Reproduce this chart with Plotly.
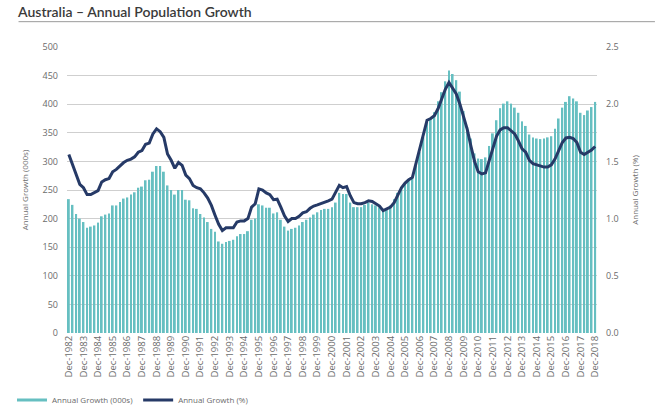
import plotly.graph_objects as go

# ---- data (quarterly, Dec-1982 .. Dec-2018) ----
months = ["Dec", "Mar", "Jun", "Sep"]
quarters = []
for i in range(145):
    m = months[i % 4]
    yr = 1982 + (i + 3) // 4
    quarters.append(f"{m}-{yr}")

tick_labels = [f"Dec-{y}" for y in range(1982, 2019)]

growth_000s = [
    234, 224, 208, 200, 194, 184, 186, 188, 193, 204, 207, 209, 223, 223, 229,
    235, 237, 242, 246, 254, 256, 267, 268, 282, 292, 292, 282, 258, 250, 242,
    250, 250, 233, 232, 218,
    217, 208, 202, 194, 182, 177, 160, 156, 159, 161, 163, 169, 173, 173, 178,
    198, 200, 225, 223, 219, 219, 209, 211, 198, 186, 179, 182, 184, 188, 194,
    198, 202, 207, 211, 215, 217, 217,
    220, 228, 245, 243, 243, 228, 220, 220, 220, 224, 228, 225, 223, 220, 214,
    217, 223, 234, 245, 255, 263, 269, 272, 292, 316, 342, 374, 376, 386, 405,
    421, 440, 459, 453, 442, 422,
    388, 360, 340, 314, 305, 304, 307, 327, 349, 372, 393, 401, 405, 401, 394,
    385, 370, 362, 347, 342, 340, 339, 340, 342, 344, 357, 375, 394, 404, 414,
    410, 405, 385, 381, 389, 395, 404,
]

growth_pct = [
    1.56, 1.47, 1.38, 1.30, 1.27, 1.21, 1.21, 1.23, 1.245, 1.32, 1.34, 1.35, 1.41, 1.43, 1.46,
    1.49, 1.51, 1.52, 1.54, 1.58, 1.595, 1.65, 1.66, 1.74, 1.785, 1.76, 1.71, 1.565, 1.51, 1.44,
    1.49, 1.465, 1.38, 1.35, 1.29,
    1.27, 1.26, 1.225, 1.18, 1.115, 1.03, 0.95, 0.895, 0.92, 0.92, 0.92, 0.97, 0.98, 0.98, 1.00,
    1.10, 1.13, 1.26, 1.25, 1.225, 1.21, 1.165, 1.17, 1.10, 1.025, 0.975, 1.00, 1.00, 1.02, 1.05,
    1.06, 1.09, 1.11, 1.12, 1.13, 1.14, 1.155,
    1.17, 1.23, 1.29, 1.27, 1.28, 1.20, 1.14, 1.13, 1.13, 1.14, 1.155, 1.15, 1.13, 1.11, 1.07,
    1.085, 1.10, 1.14, 1.21, 1.27, 1.31, 1.34, 1.36, 1.485, 1.61, 1.71, 1.86, 1.875, 1.90, 1.96,
    2.04, 2.13, 2.19, 2.14, 2.09, 2.00,
    1.90, 1.78, 1.635, 1.50, 1.41, 1.39, 1.40, 1.505, 1.61, 1.72, 1.775, 1.795, 1.795, 1.77, 1.74,
    1.68, 1.61, 1.58, 1.51, 1.48, 1.47, 1.46, 1.45, 1.45, 1.47, 1.52, 1.59, 1.665, 1.705, 1.71,
    1.70, 1.665, 1.58, 1.56, 1.58, 1.60, 1.63,
]

bar_name = "Annual Growth (000s)"
line_name = "Annual Growth (%)"

TEAL = "#66bfc1"
NAVY = "#263a67"
GRID = "#cfcfcf"
TXT = "#6b6b6b"
FONT = "Open Sans, Lato, sans-serif"

W, H = 664, 414
L, R, T, B = 66.5, 67, 47.3, 81
PW, PH = W - L - R, H - T - B

fig = go.Figure()
fig.add_trace(go.Bar(x=quarters, y=growth_000s, marker=dict(color=TEAL, line_width=0),
                     width=0.52, showlegend=False, yaxis="y"))
fig.add_trace(go.Scatter(x=quarters, y=growth_pct, mode="lines",
                         line=dict(color=NAVY, width=3), showlegend=False, yaxis="y2"))
# legend entries (line samples, as in the reference)
fig.add_trace(go.Scatter(x=[None], y=[None], mode="lines", name=bar_name,
                         line=dict(color=TEAL, width=3)))
fig.add_trace(go.Scatter(x=[None], y=[None], mode="lines", name=line_name,
                         line=dict(color=NAVY, width=3)))

fig.update_layout(
    width=W, height=H,
    margin=dict(l=L, r=R, t=T, b=B),
    paper_bgcolor="white", plot_bgcolor="white",
    font=dict(family=FONT, size=9, color=TXT),
    title=dict(text="Australia – Annual Population Growth", x=18 / W, xanchor="left",
               xref="container", y=1 - 12 / H, yanchor="middle", yref="container",
               font=dict(family="Lato, Open Sans, sans-serif", size=14, color="#3a3a3a", weight=600)),
    xaxis=dict(type="category", tickmode="array", tickvals=tick_labels, ticktext=tick_labels,
               tickangle=-90, showgrid=False, showline=False, ticks="",
               tickfont=dict(size=9.5, color=TXT), range=[-0.5, 144.5], automargin=False),
    yaxis=dict(range=[0, 500], dtick=50, showgrid=True, gridcolor=GRID, gridwidth=1,
               zeroline=False, showline=False, ticks="", ticklabelstandoff=8,
               tickfont=dict(size=9, color=TXT), automargin=False,
               title=dict(text=bar_name, font=dict(size=8, color=TXT), standoff=12)),
    yaxis2=dict(range=[0, 2.5], dtick=0.5, tickformat=".1f", overlaying="y", side="right",
                showgrid=False, zeroline=False, showline=False, ticks="", ticklabelstandoff=8,
                tickfont=dict(size=9, color=TXT), automargin=False,
                title=dict(text=line_name, font=dict(size=8, color=TXT), standoff=14)),
    legend=dict(orientation="h", xref="container", yref="container", x=12 / W,
                y=(H - 400) / H, xanchor="left", yanchor="middle",
                font=dict(size=8, color=TXT), itemwidth=30, bgcolor="rgba(0,0,0,0)"),
    shapes=[dict(type="line", xref="paper", yref="paper",
                 x0=(18 - L) / PW, x1=(655 - L) / PW,
                 y0=(H - B - 22) / PH, y1=(H - B - 22) / PH,
                 line=dict(color="#9a9a9a", width=1))],
)

fig.write_html("out.html", config={"displayModeBar": False},
               post_script="document.body.style.margin='0px';")
